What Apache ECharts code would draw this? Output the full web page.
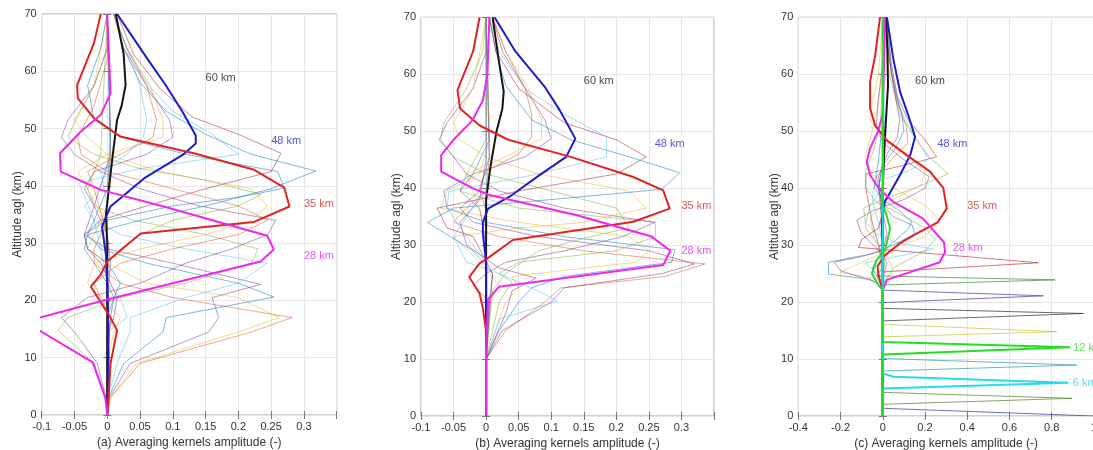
<!DOCTYPE html>
<html><head><meta charset="utf-8">
<script src="https://cdn.jsdelivr.net/npm/echarts@6/dist/echarts.min.js"></script>
<style>html,body{margin:0;padding:0;background:#fff}#c{width:1093px;height:450px}</style>
</head><body><div id="c"></div><script>
// ---------- DATA (x = kernel amplitude, y = altitude km) ----------
const altTicks = [0, 10, 20, 30, 40, 50, 60, 70];
const panelNames = ['(a) Averaging kernels amplitude (-)', '(b) Averaging kernels amplitude (-)', '(c) Averaging kernels amplitude (-)'];

// Panel (a) thin kernels
const thinA = [
  [[0,0],[0.005,3],[0.05,9],[0.22,14.5],[0.282,17],[0.1,20.5],[0.02,23],[-0.02,26.5],[-0.02,29],[-0.01,31.5],[0,36.5],[0.005,45.5],[0.003,57.5],[0,70]],
  [[0,0],[0.004,3],[0.045,9],[0.2,14.5],[0.262,17],[0.2,20.5],[0.06,23],[0,26.5],[-0.03,29],[-0.02,31.5],[0,36.5],[0.005,45.5],[0,70]],
  [[0,0],[0.003,3],[0.035,9],[0.155,14.5],[0.17,17],[0.16,20.5],[0.234,22.8],[0.1,26.5],[0,29],[-0.035,31.5],[-0.02,36.5],[0.005,45.5],[0,70]],
  [[0,0],[0.002,3],[0.025,9],[0.085,14.5],[0.09,17],[0.254,20.6],[0.2,23],[0.06,26.5],[-0.01,29],[-0.03,31.5],[-0.02,34],[0,39.5],[0.005,48.5],[0,70]],
  [[0,0],[0.001,3],[0.015,9],[0.035,14.5],[0.035,17],[0.12,20.5],[0.2,23],[0.244,26.5],[0.12,29],[0.02,31.5],[-0.02,34],[-0.035,36.5],[-0.01,39.5],[0.005,45.5],[0,70]],
  [[0,0],[-0.002,3],[-0.02,9],[-0.075,14.8],[-0.06,17],[0.02,20.5],[0.12,23],[0.22,26.5],[0.23,29],[0.15,31.5],[0.04,34],[-0.02,36.5],[-0.03,39.5],[-0.01,45.5],[0,70]],
  [[0,0],[-0.002,3],[-0.015,9],[-0.05,14.5],[-0.07,17],[-0.03,20.5],[0.05,23],[0.12,26.5],[0.19,29],[0.245,31.5],[0.257,34],[0.14,36.5],[0.05,39.5],[-0.01,42.5],[-0.05,45.5],[-0.07,48.5],[-0.06,51.5],[-0.02,57.5],[0,64],[0,70]],
  [[0,0],[0,9],[0.01,14.5],[0.02,17],[-0.01,20.5],[-0.03,23],[-0.02,26.5],[0.05,29],[0.15,31.5],[0.22,34],[0.244,36.5],[0.22,39.5],[0.08,42.5],[0,45.5],[-0.03,48.5],[-0.05,51.5],[-0.02,57.5],[0,70]],
  [[0,0],[0,9],[0.005,17],[0.01,20.5],[0,23],[-0.02,26.5],[-0.035,29],[-0.03,31.5],[0.05,34],[0.15,36.5],[0.25,39.5],[0.318,42.6],[0.22,45.5],[0.15,49],[0.09,53],[0.05,58],[0.025,64],[0.01,70]],
  [[0,0],[0,14.5],[0.01,17],[0.015,20.5],[0.005,23],[-0.01,26.5],[-0.03,29],[-0.035,31.5],[-0.01,34],[0.06,36.5],[0.15,39.5],[0.25,42.5],[0.265,45.7],[0.2,49],[0.13,52],[0.08,57],[0.04,63],[0.015,70]],
  [[0,0],[0,14.5],[0.03,17],[0.02,20.5],[0,23],[-0.01,29],[-0.02,34],[-0.043,40.5],[0.05,43],[0.2,45.5],[0.16,49],[0.1,53],[0.06,58],[0.03,64],[0.01,70]],
  [[0,0],[0,20],[0.005,26.5],[0,31.5],[-0.02,36.5],[-0.035,39.5],[-0.02,42.5],[0.06,45.5],[0.1,48.5],[0.095,51.5],[0.06,57.5],[0.025,64],[0.01,70]],
  [[0,0],[0,26.5],[-0.005,34],[-0.03,39.5],[-0.045,42.5],[0,45.5],[0.085,48.5],[0.085,51.5],[0.065,57.5],[0.03,64],[0.01,70]],
  [[0,0],[0,31.5],[-0.02,39.5],[-0.03,42.5],[0.02,45.5],[0.07,48.5],[0.075,51.5],[0.06,57.5],[0.03,64],[0.01,70]],
  [[0,0],[0,36.5],[-0.01,42.5],[0.03,45.5],[0.055,48.5],[0.06,51.5],[0.05,57.5],[0.03,64],[0.01,70]],
  [[0,0],[0,17],[0.01,20.5],[0.02,23],[0,26.5],[-0.03,29],[-0.035,31.5],[0,34],[0.1,36.5],[0.2,38],[0.27,39.6],[0.26,42.5],[0.12,45.5],[0.02,48.5],[-0.02,51.5],[-0.03,57.5],[-0.01,64],[0,70]],
  [[0,0],[0,26.5],[0.02,29],[0.05,31.5],[0.1,34],[0.2,36.5],[0.235,38.5],[0.15,41],[0.05,43],[-0.02,45.5],[-0.06,48.5],[-0.05,51],[-0.02,57.5],[0,64],[0,70]],
  [[0,0],[0,9],[0.005,17],[-0.01,20.5],[-0.02,23],[0.02,26.5],[0.1,29],[0.2,31.5],[0.245,34],[0.2,36.5],[0.1,39.5],[0,42.5],[-0.04,45.5],[-0.045,48.5],[-0.02,54],[0,62],[0,70]]
];
const thinAColors = [1,2,3,0,5,4,3,2,0,6,5,3,2,1,5,0,4,1];

// Panel (a) highlighted kernels
const a28 = [[0,0],[-0.003,3],[-0.022,9.2],[-0.11,15.2],[-0.11,16.8],[0.0015,20.2],[0.234,26.8],[0.254,28.9],[0.244,31.3],[0.086,36.4],[-0.01,39.3],[-0.071,42.5],[-0.072,45.7],[-0.041,49.4],[-0.01,52.4],[0.005,56.1],[0,70]];
const a35 = [[0,0],[0.002,3],[0.005,9],[0.015,14.8],[0.005,17],[-0.025,22.4],[-0.01,24.5],[0,26.8],[0.051,31.7],[0.224,33.7],[0.278,36.4],[0.27,39.7],[0.224,42.8],[0.132,45.7],[0.02,48.6],[-0.02,51.8],[-0.045,55.3],[-0.046,57.6],[-0.02,65],[-0.01,70]];
const a48 = [[0,0],[0.002,10],[0.001,20],[-0.002,28],[-0.008,32.9],[0.005,36.4],[0.056,41.3],[0.115,45.4],[0.135,47.4],[0.135,48.8],[0.115,52.9],[0.089,57.6],[0.061,62.2],[0.015,70]];
const a60 = [[0,0],[0,30],[-0.002,35],[0.003,40],[0.008,45],[0.015,51.5],[0.022,54],[0.028,57.6],[0.025,63],[0.013,70]];

// Panel (b) thin kernels
const thinB = [
  [[0,0],[0,10],[0.03,15],[0.09,20],[0.115,22.5],[0.275,24.5],[0.336,26.7],[0.15,29],[0.02,31.5],[-0.05,34],[-0.03,36.5],[0,39.5],[0.005,45.5],[0,70]],
  [[0,0],[0,10],[0.025,15],[0.1,20],[0.12,22.5],[0.27,25],[0.32,26.7],[0.25,29],[0.08,31.5],[-0.02,34],[-0.04,36.5],[-0.01,39.5],[0.005,45.5],[0,70]],
  [[0,0],[0,10],[0.02,15],[0.05,20],[0.07,22.5],[0.12,24.5],[0.285,27],[0.29,29.2],[0.12,31.5],[0,34],[-0.06,36.5],[-0.065,39.5],[-0.02,42.5],[0.005,48.5],[0,70]],
  [[0,0],[0,10],[0.015,15],[0.03,20],[0.05,22.5],[0.04,24.5],[0.23,27],[0.25,29],[0.22,31.5],[0.05,34],[-0.07,36.5],[-0.06,39.5],[-0.01,42.5],[0.005,48.5],[0,70]],
  [[0,0],[0,10],[0.01,15],[0.02,20],[0.04,23.5],[0.02,25],[0.05,27],[0.2,29],[0.26,31.5],[0.26,34],[0.05,36.5],[-0.04,39.5],[-0.03,42.5],[0,48.5],[0,70]],
  [[0,0],[0,10],[0.005,20],[-0.02,23],[0,25],[0.03,27],[0.12,29],[0.21,31.5],[0.259,34],[0.12,36.5],[0.02,39.5],[-0.03,42.5],[-0.05,45.5],[-0.072,48.5],[-0.06,51.5],[-0.02,57.5],[0,64],[0,70]],
  [[0,0],[0,10],[0.005,20],[0.02,23],[-0.01,27],[-0.05,31.5],[0.05,33],[0.15,34],[0.246,36.5],[0.22,39.5],[0.08,42.5],[0,45.5],[-0.04,48.5],[-0.05,51.5],[-0.02,57.5],[0,70]],
  [[0,0],[0,10],[0.005,20],[0.01,25],[-0.02,29],[-0.09,34],[-0.05,36.5],[0.1,38],[0.27,39.8],[0.297,42.7],[0.22,45.5],[0.13,48.5],[0.07,52],[0.03,58],[0.015,64],[0.005,70]],
  [[0,0],[0,10],[0.01,25],[-0.02,31.5],[-0.06,33],[-0.075,36.5],[0.05,39.5],[0.2,42.5],[0.246,45.5],[0.2,48.5],[0.12,51.5],[0.05,57.5],[0.015,64],[0.005,70]],
  [[0,0],[0,10],[0,27],[-0.03,31.5],[-0.06,36.5],[-0.057,39.4],[0.08,42.5],[0.185,45.5],[0.185,49],[0.12,53],[0.06,57.5],[0.02,64],[0.005,70]],
  [[0,0],[0,30],[-0.01,36.5],[-0.04,39.5],[-0.02,42.5],[0.06,45.5],[0.1,48.7],[0.09,52],[0.06,57.5],[0.025,64],[0.01,70]],
  [[0,0],[0,33],[-0.02,39.5],[-0.03,42.5],[0.03,45.5],[0.085,48.7],[0.085,52],[0.065,57.5],[0.03,64],[0.01,70]],
  [[0,0],[0,36],[-0.01,40],[0,43],[0.05,46],[0.07,49],[0.07,53],[0.06,57.5],[0.03,64],[0.01,70]],
  [[0,0],[0,10],[0.01,22],[0.03,25],[0.08,29],[0.16,31.5],[0.22,33],[0.2,36.5],[0.1,39.5],[0,42.5],[-0.05,45.5],[-0.07,48.5],[-0.065,51.5],[-0.03,57.5],[-0.005,64],[0,70]],
  [[0,0],[0,10],[0.03,18],[0.04,22],[0.077,24.2],[0.02,26],[-0.03,30],[-0.04,34],[-0.01,38],[0,45],[0,70]],
  [[0,0],[0,10],[0.02,17],[0.11,20.2],[0.06,23],[0.02,25],[-0.03,27],[-0.05,31.5],[-0.03,35],[0,40],[0,70]]
];
const thinBColors = [1,3,0,2,4,3,2,0,6,5,3,2,1,4,3,5];

// Panel (b) highlighted kernels
const b28 = [[0,0],[0,11],[0.003,20.5],[0.02,22.7],[0.272,26.5],[0.283,29],[0.254,31.5],[0.138,35.3],[0.005,38.8],[-0.021,40],[-0.069,42.9],[-0.069,45.8],[-0.05,48.5],[-0.021,51.9],[-0.005,55.4],[0.002,60],[0.005,70]];
const b35 = [[0,0],[0,15],[-0.005,18.9],[-0.01,21.5],[-0.026,24.4],[-0.01,26.8],[0,27.5],[0.041,30.9],[0.226,34.1],[0.282,36.4],[0.272,39.6],[0.225,42],[0.13,45.5],[0.034,48.5],[-0.01,51],[-0.04,54],[-0.044,57.2],[-0.02,64],[-0.01,70]];
const b48 = [[0,0],[0,27],[-0.005,32],[-0.005,34],[0.003,36.4],[0.036,38.5],[0.082,42.3],[0.123,45.5],[0.137,48.7],[0.113,53.7],[0.09,57.8],[0.045,64],[0.013,70]];
const b60 = [[0,0],[0,38],[0.007,44],[0.016,50],[0.025,54],[0.027,57],[0.02,62],[0.01,70]];

// Panel (c) spike kernels (low altitudes)
const spikesC = [
  [[1.0,0],[0,1.35],[0,20],[0,70]],
  [[0,0],[0,2.05],[0.895,3.1],[0,4.15],[0,70]],
  [[0,0],[0,7.9],[0.918,8.95],[0,10.1],[0,70]],
  [[0,0],[0,13.9],[0.824,14.8],[0,16.1],[0,70]],
  [[0,0],[0,16.7],[0.95,18.0],[0,18.9],[0,70]],
  [[0,0],[0,19.9],[0.76,21.1],[0,22.1],[0,70]],
  [[0,0],[0,23],[0.816,23.9],[-0.03,24.6],[0,26],[0,70]],
  [[0,0],[0,25.3],[0.737,26.9],[-0.115,29.6],[-0.1,31],[-0.02,33],[0,36],[0,70]]
];
const spikeColors = ['#35359a','#4d7d2d','#2a9a9a','#c8c23a','#2b2b3b','#3a3aaa','#3a8a3a','#c03a3a'];

// Panel (c) thin kernels (upper altitudes)
const thinC = [
  [[0,0],[0,22],[0.01,24],[-0.04,25.5],[-0.084,26.9],[0.24,29.3],[0.06,30.5],[-0.03,32],[-0.08,34],[-0.06,37],[0,40],[0.01,45],[0,70]],
  [[0,0],[0,22],[-0.02,24],[-0.2,25.2],[-0.1,27],[0.05,29.5],[0.2,31.5],[0.27,34.4],[0.2,37],[0.05,40],[-0.05,42.5],[-0.084,45.5],[-0.06,48.5],[-0.02,55],[0,62],[0,70]],
  [[0,0],[0,22],[-0.02,24],[-0.05,26],[-0.02,28],[0.05,30.5],[0.12,32.8],[0.137,34.1],[0.08,36],[0,38],[-0.04,40],[-0.02,45],[0,52],[0,70]],
  [[0,0],[0,24],[0.02,27],[-0.03,29.5],[-0.1,32],[-0.123,34.4],[-0.05,36],[0.1,38],[0.2,40],[0.22,42],[0.1,45],[0,48],[-0.03,51],[-0.02,56],[0,62],[0,70]],
  [[0,0],[0,24],[0.01,27],[-0.02,30],[-0.08,33],[-0.09,36.5],[0,38],[0.15,40],[0.31,42.5],[0.22,45.5],[0.15,49],[0.08,53],[0.03,60],[0.02,70]],
  [[0,0],[0,26],[-0.02,30],[-0.05,34],[-0.08,40],[-0.08,42.5],[0.1,44],[0.255,45.5],[0.2,48.5],[0.12,52],[0.07,56],[0.04,62],[0.02,70]],
  [[0,0],[0,30],[-0.02,34],[-0.05,38],[-0.04,41],[0.12,43],[0.22,45.2],[0.15,49],[0.08,54],[0.04,60],[0.02,70]],
  [[0,0],[0,23],[0.05,25.5],[0.02,28],[-0.04,31],[-0.06,35],[0.05,38],[0.18,40.5],[0.2,43],[0.1,46],[0,49],[-0.06,52],[-0.05,55],[-0.02,60],[0,70]],
  [[0,0],[0,30],[-0.01,38],[-0.03,42],[0.04,45],[0.12,48],[0.11,51],[0.07,55],[0.04,60],[0.02,70]],
  [[0,0],[0,33],[-0.02,40],[0,44],[0.06,47],[0.1,50],[0.09,53],[0.06,57],[0.03,63],[0.015,70]],
  [[0,0],[0,35],[-0.02,42],[0.02,46],[0.07,49],[0.08,52],[0.06,56],[0.03,63],[0.01,70]],
  [[0,0],[0,23],[0.05,26],[0.2,29],[0.25,31],[0.2,33],[0.08,35.5],[-0.03,37.5],[-0.08,40],[-0.08,43],[-0.04,47],[-0.01,52],[0,60],[0,70]],
  [[0,0],[0,22],[-0.02,23],[-0.06,24],[-0.257,24.9],[-0.257,27],[-0.05,28.5],[0.05,30],[0.15,32],[0.14,33.5],[0.05,35],[0,37],[-0.02,40],[0,45],[0,70]],
  [[0,0],[0,22],[-0.03,23.5],[-0.2,25.5],[-0.23,27],[-0.1,28],[0,29],[0.02,32],[0,36],[0,70]]
];
const thinCColors = [5,2,0,3,4,6,5,2,1,0,3,4,0,3];

// Panel (c) highlighted kernels
const c6  = [[0,0],[0,4.85],[0.879,5.85],[0.05,6.9],[0,7.5],[0,70]];
const c12 = [[0,0],[0,10.8],[0.887,12.05],[0,13.0],[0,17],[-0.005,20],[0,22],[-0.02,23],[-0.052,25],[-0.028,27.4],[0.01,29],[0.035,32.9],[0.02,35],[-0.005,37.6],[0,41],[0,70]];
const c28 = [[0,0],[0,22.1],[0.02,23.9],[0.27,27],[0.295,28.8],[0.29,30.5],[0.24,32.6],[0.19,34.7],[0.05,37.6],[-0.02,40],[-0.06,42.3],[-0.076,44.6],[-0.06,47],[-0.02,50.2],[0,53],[0.005,60],[0.01,70]];
const c35 = [[0,0],[0,22],[-0.02,24.7],[-0.025,26.3],[0.01,28.2],[0.08,30.3],[0.16,32],[0.26,34],[0.303,36.4],[0.287,40],[0.224,42.9],[0.114,45.8],[0.019,48.4],[-0.036,51],[-0.06,54],[-0.06,58.7],[-0.036,63.3],[-0.013,70]];
const c48 = [[0,0],[0,30],[-0.005,34],[0.01,37.6],[0.082,42.3],[0.13,45.8],[0.153,49],[0.121,52.8],[0.082,56.9],[0.05,62.7],[0.02,70]];
const c60 = [[0,0],[0,40],[0.005,45],[0.012,50],[0.02,55],[0.025,58],[0.022,64],[0.015,70]];

// Annotation texts: [text, x, altitude]
const labelsA = [['60 km',0.15,58.9],['48 km',0.25,47.9],['35 km',0.30,36.9],['28 km',0.30,27.8]];
const labelsB = [['60 km',0.15,58.8],['48 km',0.259,47.7],['35 km',0.30,36.8],['28 km',0.30,28.9]];
const labelsC = [['60 km',0.153,58.8],['48 km',0.259,47.7],['35 km',0.40,36.8],['28 km',0.331,29.5],['12 km',0.902,11.9],['6 km',0.90,5.85]];

// ---------- STYLE / BUILD ----------
const palette = ['#0072BD','#D95319','#EDB120','#7E2F8E','#77AC30','#4DBEEE','#A2142F'];
const HL = {red:'#e02424', blue:'#1c1cc8', mag:'#ee26ee', blk:'#151515', grn:'#26dd26', cyn:'#26dcee'};
const labelColors = {'60 km':'#111','48 km':'#2a2ad0','35 km':'#d42a2a','28 km':'#e030e0','12 km':'#30d030','6 km':'#30d0e0'};
const FONT = '"Liberation Sans", Arial, Helvetica, sans-serif';

function ln(gi, data, color, width, opacity, z) {
  return {type:'line', xAxisIndex:gi, yAxisIndex:gi, data:data, showSymbol:false, symbol:'none',
    lineStyle:{color:color, width:width, opacity:opacity}, z:z, silent:true, animation:false, clip:true};
}
function labs(gi, arr) {
  return {type:'scatter', xAxisIndex:gi, yAxisIndex:gi, symbolSize:0, silent:true, animation:false, z:20,
    data: arr.map(a => ({value:[a[1],a[2]], name:a[0],
      label:{show:true, position:'right', distance:0, formatter:a[0], color:labelColors[a[0]], fontSize:11, fontFamily:FONT}}))};
}
const series = [];
thinA.forEach((d,i) => series.push(ln(0, d, palette[thinAColors[i]], 1, 0.5, 2)));
series.push(ln(0, a60, HL.blk, 2, 1, 5), ln(0, a48, HL.blue, 2, 1, 5), ln(0, a35, HL.red, 2, 1, 5), ln(0, a28, HL.mag, 2, 1, 5));
thinB.forEach((d,i) => series.push(ln(1, d, palette[thinBColors[i]], 1, 0.5, 2)));
series.push(ln(1, b60, HL.blk, 2, 1, 5), ln(1, b48, HL.blue, 2, 1, 5), ln(1, b35, HL.red, 2, 1, 5), ln(1, b28, HL.mag, 2, 1, 5));
spikesC.forEach((d,i) => series.push(ln(2, d, spikeColors[i], 1, 0.7, 2)));
thinCColors.forEach((c,i) => series.push(ln(2, thinC[i], palette[c], 1, 0.5, 2)));
series.push(ln(2, c60, HL.blk, 2, 1, 5), ln(2, c48, HL.blue, 2, 1, 5), ln(2, c35, HL.red, 2, 1, 5), ln(2, c28, HL.mag, 2, 1, 5),
            ln(2, c6, HL.cyn, 2, 1, 6), ln(2, c12, HL.grn, 2, 1, 7));
series.push(labs(0, labelsA), labs(1, labelsB), labs(2, labelsC));

const fmt = v => (Math.abs(v - 0.35) < 1e-9) ? '' : String(Math.round(v * 100) / 100);
const xRanges = [[-0.1,0.35,0.05],[-0.1,0.35,0.05],[-0.4,1,0.2]];
const tickStyle = {show:true, inside:true, length:4, lineStyle:{color:'#777'}};
const xAxis = xRanges.map((r,i) => ({
  type:'value', gridIndex:i, min:r[0], max:r[1], interval:r[2], position:'bottom',
  name:panelNames[i], nameLocation:'middle', nameGap:22, nameMoveOverlap:false,
  nameTextStyle:{fontSize:12, color:'#333', fontFamily:FONT},
  axisLine:{show:false}, axisTick:tickStyle,
  axisLabel:{fontSize:11, color:'#333', margin:6, fontFamily:FONT, formatter:fmt},
  splitLine:{show:true, lineStyle:{color:'#e6e6e6', width:1}}
})).concat(xRanges.map((r,i) => ({
  type:'value', gridIndex:i, min:r[0], max:r[1], interval:r[2], position:'top',
  axisLine:{show:false}, axisTick:tickStyle, axisLabel:{show:false}, splitLine:{show:false}
})));
const yAxis = [0,1,2].map(i => ({
  type:'value', gridIndex:i, min:0, max:70, interval:10, position:'left',
  name:'Altitude agl (km)', nameLocation:'middle', nameGap:18, nameMoveOverlap:false,
  nameTextStyle:{fontSize:12, color:'#333', fontFamily:FONT},
  axisLine:{show:false}, axisTick:tickStyle,
  axisLabel:{fontSize:11, color:'#333', margin:5, fontFamily:FONT, formatter: v => (altTicks.includes(v) ? String(v) : '')},
  splitLine:{show:true, lineStyle:{color:'#e6e6e6', width:1}}
})).concat([0,1,2].map(i => ({
  type:'value', gridIndex:i, min:0, max:70, interval:10, position:'right',
  axisLine:{show:false}, axisTick:tickStyle, axisLabel:{show:false}, splitLine:{show:false}
})));

const gridBase = {show:true, borderColor:'#a0a0a0', borderWidth:1, backgroundColor:'transparent', containLabel:false, outerBoundsMode:'none'};
const chart = echarts.init(document.getElementById('c'), null, {renderer:'canvas'});
chart.setOption({
  animation:false,
  backgroundColor:'#fff',
  grid:[
    Object.assign({left:41.7, top:14, width:295, height:401}, gridBase),
    Object.assign({left:421, top:17.3, width:293, height:398.7}, gridBase),
    Object.assign({left:798.3, top:17.3, width:295.6, height:398.7}, gridBase)
  ],
  xAxis:xAxis, yAxis:yAxis, series:series
});
</script></body></html>
